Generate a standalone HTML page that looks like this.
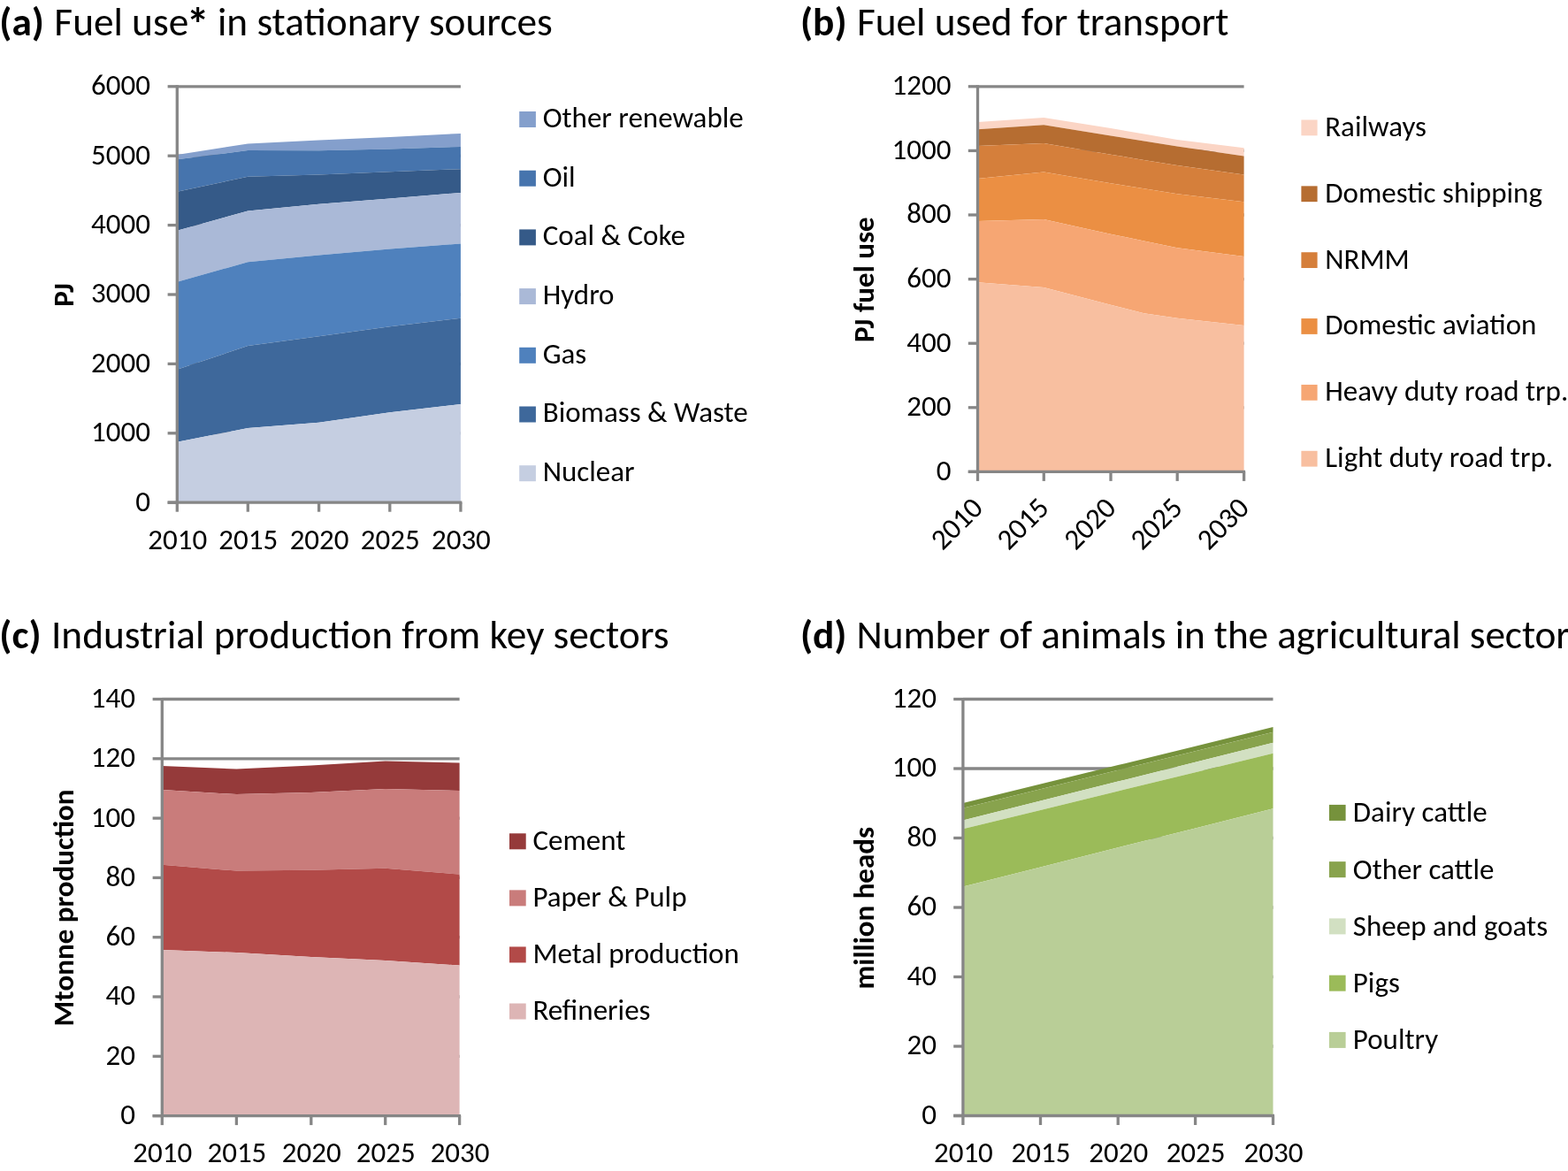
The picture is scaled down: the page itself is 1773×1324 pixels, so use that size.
<!DOCTYPE html>
<html><head><meta charset="utf-8"><title>Figure</title><style>
html,body{margin:0;padding:0;background:#fff;}
body{width:1773px;height:1324px;overflow:hidden;}
svg{display:block;}
text{font-family:Carlito, "Liberation Sans", sans-serif;fill:#000;font-size-adjust:0.4775390625;}
.b{font-weight:bold;font-size-adjust:0.48486328125;}
</style></head><body>
<svg width="1773" height="1324" viewBox="0 0 1773 1324">
<rect x="0" y="0" width="1773" height="1324" fill="#fff"/>
<text x="-0.7" y="40" font-size="45.3" letter-spacing="0"><tspan class="b">(a)</tspan><tspan dx="1.2"> Fuel use<tspan class="b" font-size="52" dx="-2.3" dy="5.6">*</tspan><tspan dx="-1.04" dy="-5.6"> in stationary sources</tspan></tspan></text>
<text x="905" y="40" font-size="45.3" letter-spacing="0"><tspan class="b">(b)</tspan><tspan dx="1.2"> Fuel used for transport</tspan></text>
<text x="-0.7" y="733" font-size="45.3" letter-spacing="0"><tspan class="b">(c)</tspan><tspan dx="1.2"> Industrial production from key sectors</tspan></text>
<text x="905" y="733" font-size="45.3" letter-spacing="-0.09"><tspan class="b">(d)</tspan><tspan dx="1.2"> Number of animals in the agricultural sector</tspan></text>
<line x1="200.3" y1="97.80" x2="520.9" y2="97.80" stroke="#868686" stroke-width="3.3"/>
<line x1="200.3" y1="176.20" x2="520.9" y2="176.20" stroke="#868686" stroke-width="3.3"/>
<line x1="200.3" y1="254.60" x2="520.9" y2="254.60" stroke="#868686" stroke-width="3.3"/>
<line x1="200.3" y1="333.00" x2="520.9" y2="333.00" stroke="#868686" stroke-width="3.3"/>
<line x1="200.3" y1="411.40" x2="520.9" y2="411.40" stroke="#868686" stroke-width="3.3"/>
<line x1="200.3" y1="489.80" x2="520.9" y2="489.80" stroke="#868686" stroke-width="3.3"/>
<path d="M200.3,175.1 L280.3,162.4 L360.6,158.6 L440.8,155.0 L520.9,150.9 L520.9,165.9 L440.8,168.4 L360.6,170.3 L280.3,170.1 L200.3,180.3 Z" fill="#849FCC"/>
<path d="M200.3,180.3 L280.3,170.1 L360.6,170.3 L440.8,168.4 L520.9,165.9 L520.9,191.2 L440.8,194.3 L360.6,197.5 L280.3,199.8 L200.3,216.7 Z" fill="#4674AD"/>
<path d="M200.3,216.7 L280.3,199.8 L360.6,197.5 L440.8,194.3 L520.9,191.2 L520.9,217.9 L440.8,224.5 L360.6,230.7 L280.3,238.5 L200.3,260.8 Z" fill="#355A88"/>
<path d="M200.3,260.8 L280.3,238.5 L360.6,230.7 L440.8,224.5 L520.9,217.9 L520.9,275.4 L440.8,281.6 L360.6,288.5 L280.3,296.3 L200.3,318.7 Z" fill="#AAB9D7"/>
<path d="M200.3,318.7 L280.3,296.3 L360.6,288.5 L440.8,281.6 L520.9,275.4 L520.9,359.7 L440.8,369.3 L360.6,380.2 L280.3,391.0 L200.3,417.8 Z" fill="#4F81BD"/>
<path d="M200.3,417.8 L280.3,391.0 L360.6,380.2 L440.8,369.3 L520.9,359.7 L520.9,457.1 L440.8,466.2 L360.6,477.7 L280.3,484.0 L200.3,499.7 Z" fill="#3E689B"/>
<path d="M200.3,499.7 L280.3,484.0 L360.6,477.7 L440.8,466.2 L520.9,457.1 L520.9,568.2 L440.8,568.2 L360.6,568.2 L280.3,568.2 L200.3,568.2 Z" fill="#C5CEE1"/>
<line x1="200.3" y1="96.30" x2="200.3" y2="569.70" stroke="#868686" stroke-width="3.3"/>
<line x1="189.60000000000002" y1="568.2" x2="522.4" y2="568.2" stroke="#868686" stroke-width="3.3"/>
<line x1="189.60000000000002" y1="568.20" x2="200.3" y2="568.20" stroke="#868686" stroke-width="3.3"/>
<line x1="189.60000000000002" y1="489.80" x2="200.3" y2="489.80" stroke="#868686" stroke-width="3.3"/>
<line x1="189.60000000000002" y1="411.40" x2="200.3" y2="411.40" stroke="#868686" stroke-width="3.3"/>
<line x1="189.60000000000002" y1="333.00" x2="200.3" y2="333.00" stroke="#868686" stroke-width="3.3"/>
<line x1="189.60000000000002" y1="254.60" x2="200.3" y2="254.60" stroke="#868686" stroke-width="3.3"/>
<line x1="189.60000000000002" y1="176.20" x2="200.3" y2="176.20" stroke="#868686" stroke-width="3.3"/>
<line x1="189.60000000000002" y1="97.80" x2="200.3" y2="97.80" stroke="#868686" stroke-width="3.3"/>
<line x1="200.30" y1="568.2" x2="200.30" y2="578.7" stroke="#868686" stroke-width="3.3"/>
<line x1="280.30" y1="568.2" x2="280.30" y2="578.7" stroke="#868686" stroke-width="3.3"/>
<line x1="360.60" y1="568.2" x2="360.60" y2="578.7" stroke="#868686" stroke-width="3.3"/>
<line x1="440.80" y1="568.2" x2="440.80" y2="578.7" stroke="#868686" stroke-width="3.3"/>
<line x1="520.90" y1="568.2" x2="520.90" y2="578.7" stroke="#868686" stroke-width="3.3"/>
<text x="170" y="577.60" text-anchor="end" font-size="33">0</text>
<text x="170" y="499.20" text-anchor="end" font-size="33">1000</text>
<text x="170" y="420.80" text-anchor="end" font-size="33">2000</text>
<text x="170" y="342.40" text-anchor="end" font-size="33">3000</text>
<text x="170" y="264.00" text-anchor="end" font-size="33">4000</text>
<text x="170" y="185.60" text-anchor="end" font-size="33">5000</text>
<text x="170" y="107.20" text-anchor="end" font-size="33">6000</text>
<text x="200.80" y="621" text-anchor="middle" font-size="33">2010</text>
<text x="280.80" y="621" text-anchor="middle" font-size="33">2015</text>
<text x="361.10" y="621" text-anchor="middle" font-size="33">2020</text>
<text x="441.30" y="621" text-anchor="middle" font-size="33">2025</text>
<text x="521.40" y="621" text-anchor="middle" font-size="33">2030</text>
<line x1="1105.5" y1="97.80" x2="1406.6" y2="97.80" stroke="#868686" stroke-width="3.3"/>
<line x1="1105.5" y1="170.40" x2="1406.6" y2="170.40" stroke="#868686" stroke-width="3.3"/>
<line x1="1105.5" y1="243.00" x2="1406.6" y2="243.00" stroke="#868686" stroke-width="3.3"/>
<line x1="1105.5" y1="315.60" x2="1406.6" y2="315.60" stroke="#868686" stroke-width="3.3"/>
<line x1="1105.5" y1="388.20" x2="1406.6" y2="388.20" stroke="#868686" stroke-width="3.3"/>
<line x1="1105.5" y1="460.80" x2="1406.6" y2="460.80" stroke="#868686" stroke-width="3.3"/>
<path d="M1105.5,138.0 L1180.3,133.0 L1256.0,145.1 L1293.6,151.6 L1331.2,158.1 L1406.6,167.3 L1406.6,176.5 L1331.2,165.4 L1293.6,159.5 L1256.0,153.6 L1180.3,141.3 L1105.5,146.2 Z" fill="#FBD5C5"/>
<path d="M1105.5,146.2 L1180.3,141.3 L1256.0,153.6 L1293.6,159.5 L1331.2,165.4 L1406.6,176.5 L1406.6,197.6 L1331.2,187.1 L1293.6,180.9 L1256.0,174.7 L1180.3,161.9 L1105.5,165.1 Z" fill="#B66D31"/>
<path d="M1105.5,165.1 L1180.3,161.9 L1256.0,174.7 L1293.6,180.9 L1331.2,187.1 L1406.6,197.6 L1406.6,228.3 L1331.2,219.2 L1293.6,213.2 L1256.0,207.3 L1180.3,194.5 L1105.5,202.1 Z" fill="#D57F3B"/>
<path d="M1105.5,202.1 L1180.3,194.5 L1256.0,207.3 L1293.6,213.2 L1331.2,219.2 L1406.6,228.3 L1406.6,290.0 L1331.2,280.2 L1293.6,272.4 L1256.0,264.7 L1180.3,248.1 L1105.5,250.0 Z" fill="#EB8F43"/>
<path d="M1105.5,250.0 L1180.3,248.1 L1256.0,264.7 L1293.6,272.4 L1331.2,280.2 L1406.6,290.0 L1406.6,367.9 L1331.2,359.7 L1293.6,354.3 L1256.0,344.8 L1180.3,325.0 L1105.5,319.3 Z" fill="#F6A673"/>
<path d="M1105.5,319.3 L1180.3,325.0 L1256.0,344.8 L1293.6,354.3 L1331.2,359.7 L1406.6,367.9 L1406.6,533.4 L1331.2,533.4 L1293.6,533.4 L1256.0,533.4 L1180.3,533.4 L1105.5,533.4 Z" fill="#F8BFA0"/>
<line x1="1105.5" y1="96.30" x2="1105.5" y2="534.90" stroke="#868686" stroke-width="3.3"/>
<line x1="1094.8" y1="533.4" x2="1408.1" y2="533.4" stroke="#868686" stroke-width="3.3"/>
<line x1="1094.8" y1="533.40" x2="1105.5" y2="533.40" stroke="#868686" stroke-width="3.3"/>
<line x1="1094.8" y1="460.80" x2="1105.5" y2="460.80" stroke="#868686" stroke-width="3.3"/>
<line x1="1094.8" y1="388.20" x2="1105.5" y2="388.20" stroke="#868686" stroke-width="3.3"/>
<line x1="1094.8" y1="315.60" x2="1105.5" y2="315.60" stroke="#868686" stroke-width="3.3"/>
<line x1="1094.8" y1="243.00" x2="1105.5" y2="243.00" stroke="#868686" stroke-width="3.3"/>
<line x1="1094.8" y1="170.40" x2="1105.5" y2="170.40" stroke="#868686" stroke-width="3.3"/>
<line x1="1094.8" y1="97.80" x2="1105.5" y2="97.80" stroke="#868686" stroke-width="3.3"/>
<line x1="1105.50" y1="533.4" x2="1105.50" y2="543.9" stroke="#868686" stroke-width="3.3"/>
<line x1="1180.30" y1="533.4" x2="1180.30" y2="543.9" stroke="#868686" stroke-width="3.3"/>
<line x1="1256.00" y1="533.4" x2="1256.00" y2="543.9" stroke="#868686" stroke-width="3.3"/>
<line x1="1331.20" y1="533.4" x2="1331.20" y2="543.9" stroke="#868686" stroke-width="3.3"/>
<line x1="1406.60" y1="533.4" x2="1406.60" y2="543.9" stroke="#868686" stroke-width="3.3"/>
<text x="1075.5" y="542.80" text-anchor="end" font-size="33">0</text>
<text x="1075.5" y="470.20" text-anchor="end" font-size="33">200</text>
<text x="1075.5" y="397.60" text-anchor="end" font-size="33">400</text>
<text x="1075.5" y="325.00" text-anchor="end" font-size="33">600</text>
<text x="1075.5" y="252.40" text-anchor="end" font-size="33">800</text>
<text x="1075.5" y="179.80" text-anchor="end" font-size="33">1000</text>
<text x="1075.5" y="107.20" text-anchor="end" font-size="33">1200</text>
<text transform="translate(1097.50,560.5) rotate(-45)" text-anchor="end" font-size="33" dy="22">2010</text>
<text transform="translate(1172.30,560.5) rotate(-45)" text-anchor="end" font-size="33" dy="22">2015</text>
<text transform="translate(1248.00,560.5) rotate(-45)" text-anchor="end" font-size="33" dy="22">2020</text>
<text transform="translate(1323.20,560.5) rotate(-45)" text-anchor="end" font-size="33" dy="22">2025</text>
<text transform="translate(1398.60,560.5) rotate(-45)" text-anchor="end" font-size="33" dy="22">2030</text>
<line x1="183.3" y1="790.50" x2="519.6" y2="790.50" stroke="#868686" stroke-width="3.3"/>
<line x1="183.3" y1="857.80" x2="519.6" y2="857.80" stroke="#868686" stroke-width="3.3"/>
<line x1="183.3" y1="925.10" x2="519.6" y2="925.10" stroke="#868686" stroke-width="3.3"/>
<line x1="183.3" y1="992.40" x2="519.6" y2="992.40" stroke="#868686" stroke-width="3.3"/>
<line x1="183.3" y1="1059.70" x2="519.6" y2="1059.70" stroke="#868686" stroke-width="3.3"/>
<line x1="183.3" y1="1127.00" x2="519.6" y2="1127.00" stroke="#868686" stroke-width="3.3"/>
<line x1="183.3" y1="1194.30" x2="519.6" y2="1194.30" stroke="#868686" stroke-width="3.3"/>
<path d="M183.3,866.0 L267.4,869.6 L351.8,865.6 L435.7,860.6 L519.6,862.6 L519.6,894.1 L435.7,892.1 L351.8,896.1 L267.4,898.1 L183.3,893.1 Z" fill="#953A3A"/>
<path d="M183.3,893.1 L267.4,898.1 L351.8,896.1 L435.7,892.1 L519.6,894.1 L519.6,988.6 L435.7,981.8 L351.8,983.8 L267.4,984.6 L183.3,977.8 Z" fill="#C97C7B"/>
<path d="M183.3,977.8 L267.4,984.6 L351.8,983.8 L435.7,981.8 L519.6,988.6 L519.6,1091.5 L435.7,1086.1 L351.8,1082.1 L267.4,1077.1 L183.3,1074.1 Z" fill="#B24A48"/>
<path d="M183.3,1074.1 L267.4,1077.1 L351.8,1082.1 L435.7,1086.1 L519.6,1091.5 L519.6,1261.6 L435.7,1261.6 L351.8,1261.6 L267.4,1261.6 L183.3,1261.6 Z" fill="#DDB5B5"/>
<line x1="183.3" y1="789.00" x2="183.3" y2="1263.10" stroke="#868686" stroke-width="3.3"/>
<line x1="172.60000000000002" y1="1261.6" x2="521.1" y2="1261.6" stroke="#868686" stroke-width="3.3"/>
<line x1="172.60000000000002" y1="1261.60" x2="183.3" y2="1261.60" stroke="#868686" stroke-width="3.3"/>
<line x1="172.60000000000002" y1="1194.30" x2="183.3" y2="1194.30" stroke="#868686" stroke-width="3.3"/>
<line x1="172.60000000000002" y1="1127.00" x2="183.3" y2="1127.00" stroke="#868686" stroke-width="3.3"/>
<line x1="172.60000000000002" y1="1059.70" x2="183.3" y2="1059.70" stroke="#868686" stroke-width="3.3"/>
<line x1="172.60000000000002" y1="992.40" x2="183.3" y2="992.40" stroke="#868686" stroke-width="3.3"/>
<line x1="172.60000000000002" y1="925.10" x2="183.3" y2="925.10" stroke="#868686" stroke-width="3.3"/>
<line x1="172.60000000000002" y1="857.80" x2="183.3" y2="857.80" stroke="#868686" stroke-width="3.3"/>
<line x1="172.60000000000002" y1="790.50" x2="183.3" y2="790.50" stroke="#868686" stroke-width="3.3"/>
<line x1="183.30" y1="1261.6" x2="183.30" y2="1272.1" stroke="#868686" stroke-width="3.3"/>
<line x1="267.40" y1="1261.6" x2="267.40" y2="1272.1" stroke="#868686" stroke-width="3.3"/>
<line x1="351.80" y1="1261.6" x2="351.80" y2="1272.1" stroke="#868686" stroke-width="3.3"/>
<line x1="435.70" y1="1261.6" x2="435.70" y2="1272.1" stroke="#868686" stroke-width="3.3"/>
<line x1="519.60" y1="1261.6" x2="519.60" y2="1272.1" stroke="#868686" stroke-width="3.3"/>
<text x="153" y="1271.00" text-anchor="end" font-size="33">0</text>
<text x="153" y="1203.70" text-anchor="end" font-size="33">20</text>
<text x="153" y="1136.40" text-anchor="end" font-size="33">40</text>
<text x="153" y="1069.10" text-anchor="end" font-size="33">60</text>
<text x="153" y="1001.80" text-anchor="end" font-size="33">80</text>
<text x="153" y="934.50" text-anchor="end" font-size="33">100</text>
<text x="153" y="867.20" text-anchor="end" font-size="33">120</text>
<text x="153" y="799.90" text-anchor="end" font-size="33">140</text>
<text x="183.80" y="1314" text-anchor="middle" font-size="33">2010</text>
<text x="267.90" y="1314" text-anchor="middle" font-size="33">2015</text>
<text x="352.30" y="1314" text-anchor="middle" font-size="33">2020</text>
<text x="436.20" y="1314" text-anchor="middle" font-size="33">2025</text>
<text x="520.10" y="1314" text-anchor="middle" font-size="33">2030</text>
<line x1="1088.9" y1="790.50" x2="1439.5" y2="790.50" stroke="#868686" stroke-width="3.3"/>
<line x1="1088.9" y1="869.00" x2="1439.5" y2="869.00" stroke="#868686" stroke-width="3.3"/>
<line x1="1088.9" y1="947.50" x2="1439.5" y2="947.50" stroke="#868686" stroke-width="3.3"/>
<line x1="1088.9" y1="1026.00" x2="1439.5" y2="1026.00" stroke="#868686" stroke-width="3.3"/>
<line x1="1088.9" y1="1104.50" x2="1439.5" y2="1104.50" stroke="#868686" stroke-width="3.3"/>
<line x1="1088.9" y1="1183.00" x2="1439.5" y2="1183.00" stroke="#868686" stroke-width="3.3"/>
<path d="M1088.9,908.1 L1176.5,886.6 L1264.2,865.1 L1351.6,843.7 L1439.5,822.1 L1439.5,827.7 L1351.6,849.3 L1264.2,870.7 L1176.5,892.2 L1088.9,913.7 Z" fill="#76923C"/>
<path d="M1088.9,913.7 L1176.5,892.2 L1264.2,870.7 L1351.6,849.3 L1439.5,827.7 L1439.5,839.8 L1351.6,861.8 L1264.2,883.6 L1176.5,905.6 L1088.9,927.5 Z" fill="#88A34D"/>
<path d="M1088.9,927.5 L1176.5,905.6 L1264.2,883.6 L1351.6,861.8 L1439.5,839.8 L1439.5,851.7 L1351.6,873.2 L1264.2,894.5 L1176.5,915.9 L1088.9,937.3 Z" fill="#D2E0C2"/>
<path d="M1088.9,937.3 L1176.5,915.9 L1264.2,894.5 L1351.6,873.2 L1439.5,851.7 L1439.5,914.3 L1351.6,936.4 L1264.2,958.3 L1176.5,980.4 L1088.9,1002.4 Z" fill="#9BBB59"/>
<path d="M1088.9,1002.4 L1176.5,980.4 L1264.2,958.3 L1351.6,936.4 L1439.5,914.3 L1439.5,1261.5 L1351.6,1261.5 L1264.2,1261.5 L1176.5,1261.5 L1088.9,1261.5 Z" fill="#B9CE97"/>
<line x1="1088.9" y1="789.00" x2="1088.9" y2="1263.00" stroke="#868686" stroke-width="3.3"/>
<line x1="1078.2" y1="1261.5" x2="1441.0" y2="1261.5" stroke="#868686" stroke-width="3.3"/>
<line x1="1078.2" y1="1261.50" x2="1088.9" y2="1261.50" stroke="#868686" stroke-width="3.3"/>
<line x1="1078.2" y1="1183.00" x2="1088.9" y2="1183.00" stroke="#868686" stroke-width="3.3"/>
<line x1="1078.2" y1="1104.50" x2="1088.9" y2="1104.50" stroke="#868686" stroke-width="3.3"/>
<line x1="1078.2" y1="1026.00" x2="1088.9" y2="1026.00" stroke="#868686" stroke-width="3.3"/>
<line x1="1078.2" y1="947.50" x2="1088.9" y2="947.50" stroke="#868686" stroke-width="3.3"/>
<line x1="1078.2" y1="869.00" x2="1088.9" y2="869.00" stroke="#868686" stroke-width="3.3"/>
<line x1="1078.2" y1="790.50" x2="1088.9" y2="790.50" stroke="#868686" stroke-width="3.3"/>
<line x1="1088.90" y1="1261.5" x2="1088.90" y2="1272.0" stroke="#868686" stroke-width="3.3"/>
<line x1="1176.50" y1="1261.5" x2="1176.50" y2="1272.0" stroke="#868686" stroke-width="3.3"/>
<line x1="1264.20" y1="1261.5" x2="1264.20" y2="1272.0" stroke="#868686" stroke-width="3.3"/>
<line x1="1351.60" y1="1261.5" x2="1351.60" y2="1272.0" stroke="#868686" stroke-width="3.3"/>
<line x1="1439.50" y1="1261.5" x2="1439.50" y2="1272.0" stroke="#868686" stroke-width="3.3"/>
<text x="1059" y="1270.90" text-anchor="end" font-size="33">0</text>
<text x="1059" y="1192.40" text-anchor="end" font-size="33">20</text>
<text x="1059" y="1113.90" text-anchor="end" font-size="33">40</text>
<text x="1059" y="1035.40" text-anchor="end" font-size="33">60</text>
<text x="1059" y="956.90" text-anchor="end" font-size="33">80</text>
<text x="1059" y="878.40" text-anchor="end" font-size="33">100</text>
<text x="1059" y="799.90" text-anchor="end" font-size="33">120</text>
<text x="1089.40" y="1314" text-anchor="middle" font-size="33">2010</text>
<text x="1177.00" y="1314" text-anchor="middle" font-size="33">2015</text>
<text x="1264.70" y="1314" text-anchor="middle" font-size="33">2020</text>
<text x="1352.10" y="1314" text-anchor="middle" font-size="33">2025</text>
<text x="1440.00" y="1314" text-anchor="middle" font-size="33">2030</text>
<text transform="translate(82.5,333.4) rotate(-90)" text-anchor="middle" font-size="33" class="b">PJ</text>
<text transform="translate(988.2,316.2) rotate(-90)" text-anchor="middle" font-size="33" class="b">PJ fuel use</text>
<text transform="translate(83,1026.5) rotate(-90)" text-anchor="middle" font-size="33" class="b">Mtonne production</text>
<text transform="translate(988,1026.7) rotate(-90)" text-anchor="middle" font-size="33" class="b">million heads</text>
<rect x="587.2" y="126.00" width="18.7" height="18" fill="#849FCC"/>
<text x="613.7" y="143.80" font-size="33">Other renewable</text>
<rect x="587.2" y="192.70" width="18.7" height="18" fill="#4674AD"/>
<text x="613.7" y="210.50" font-size="33">Oil</text>
<rect x="587.2" y="259.40" width="18.7" height="18" fill="#355A88"/>
<text x="613.7" y="277.20" font-size="33">Coal &amp; Coke</text>
<rect x="587.2" y="326.10" width="18.7" height="18" fill="#AAB9D7"/>
<text x="613.7" y="343.90" font-size="33">Hydro</text>
<rect x="587.2" y="392.80" width="18.7" height="18" fill="#4F81BD"/>
<text x="613.7" y="410.60" font-size="33">Gas</text>
<rect x="587.2" y="459.50" width="18.7" height="18" fill="#3E689B"/>
<text x="613.7" y="477.30" font-size="33">Biomass &amp; Waste</text>
<rect x="587.2" y="526.20" width="18.7" height="18" fill="#C5CEE1"/>
<text x="613.7" y="544.00" font-size="33">Nuclear</text>
<rect x="1471.4" y="135.50" width="18.2" height="17.8" fill="#FBD5C5"/>
<text x="1498.2" y="153.90" font-size="33">Railways</text>
<rect x="1471.4" y="210.36" width="18.2" height="17.8" fill="#B66D31"/>
<text x="1498.2" y="228.76" font-size="33">Domestic shipping</text>
<rect x="1471.4" y="285.22" width="18.2" height="17.8" fill="#D57F3B"/>
<text x="1498.2" y="303.62" font-size="33">NRMM</text>
<rect x="1471.4" y="360.08" width="18.2" height="17.8" fill="#EB8F43"/>
<text x="1498.2" y="378.48" font-size="33">Domestic aviation</text>
<rect x="1471.4" y="434.94" width="18.2" height="17.8" fill="#F6A673"/>
<text x="1498.2" y="453.34" font-size="33">Heavy duty road trp.</text>
<rect x="1471.4" y="509.80" width="18.2" height="17.8" fill="#F8BFA0"/>
<text x="1498.2" y="528.20" font-size="33">Light duty road trp.</text>
<rect x="576" y="942.30" width="18.7" height="18" fill="#953A3A"/>
<text x="602.4" y="960.80" font-size="33">Cement</text>
<rect x="576" y="1006.37" width="18.7" height="18" fill="#C97C7B"/>
<text x="602.4" y="1024.87" font-size="33">Paper &amp; Pulp</text>
<rect x="576" y="1070.44" width="18.7" height="18" fill="#B24A48"/>
<text x="602.4" y="1088.94" font-size="33">Metal production</text>
<rect x="576" y="1134.51" width="18.7" height="18" fill="#DDB5B5"/>
<text x="602.4" y="1153.01" font-size="33">Refineries</text>
<rect x="1502.9" y="909.90" width="18.7" height="18" fill="#76923C"/>
<text x="1529.8" y="929.40" font-size="33">Dairy cattle</text>
<rect x="1502.9" y="974.15" width="18.7" height="18" fill="#88A34D"/>
<text x="1529.8" y="993.65" font-size="33">Other cattle</text>
<rect x="1502.9" y="1038.40" width="18.7" height="18" fill="#D2E0C2"/>
<text x="1529.8" y="1057.90" font-size="33">Sheep and goats</text>
<rect x="1502.9" y="1102.65" width="18.7" height="18" fill="#9BBB59"/>
<text x="1529.8" y="1122.15" font-size="33">Pigs</text>
<rect x="1502.9" y="1166.90" width="18.7" height="18" fill="#B9CE97"/>
<text x="1529.8" y="1186.40" font-size="33">Poultry</text>
</svg>
</body></html>
